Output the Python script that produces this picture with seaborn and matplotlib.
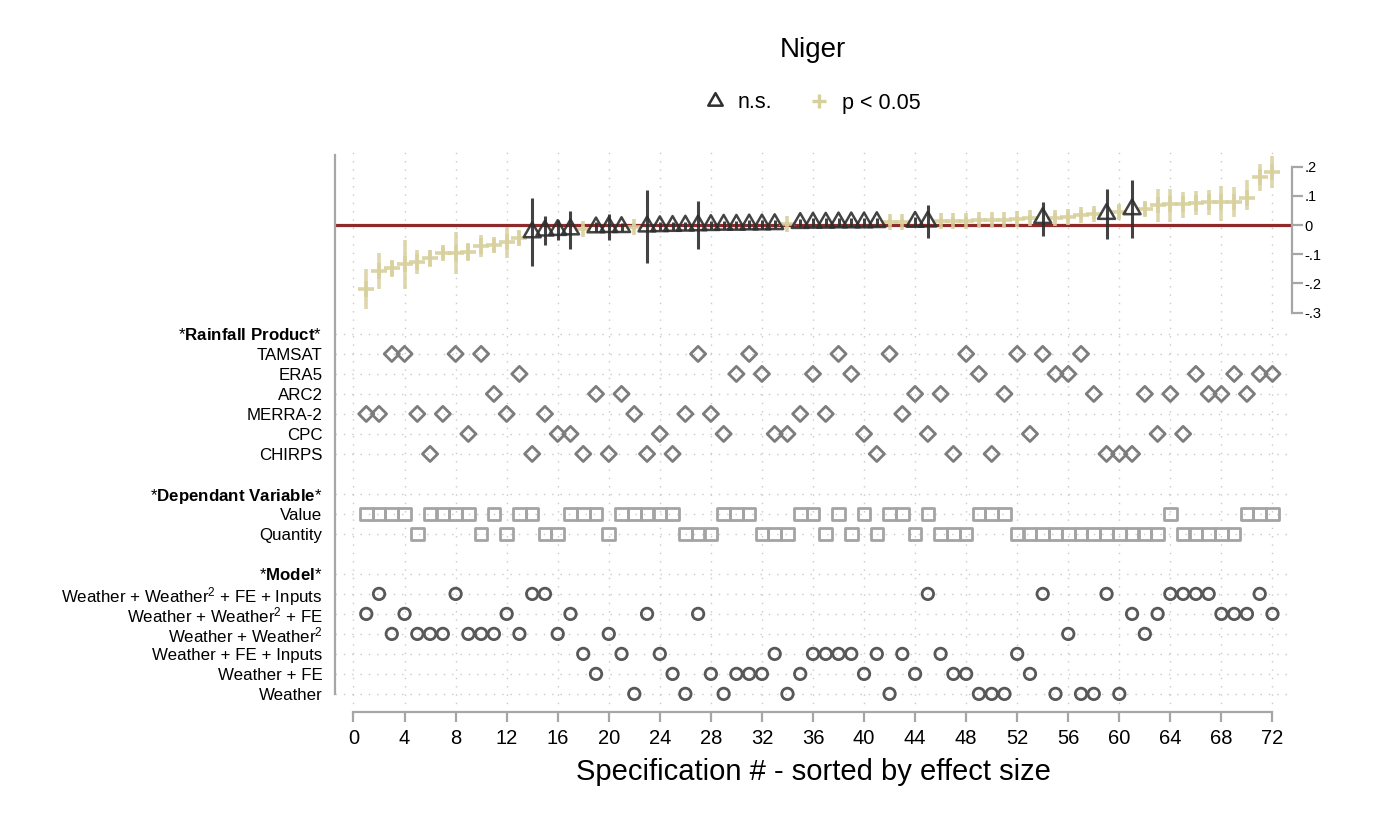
import numpy as np
import pandas as pd
import matplotlib
matplotlib.use("Agg")
import matplotlib.pyplot as plt
from matplotlib.lines import Line2D
from matplotlib.path import Path
from matplotlib.markers import MarkerStyle
import seaborn as sns

# ---------------- data ----------------
spec = list(range(1, 73))
coef = [-0.219, -0.156, -0.148, -0.132, -0.126, -0.113, -0.097, -0.095, -0.092, -0.071,
        -0.068, -0.058, -0.043, -0.025, -0.019, -0.017, -0.015, -0.013, -0.008, -0.007,
        -0.007, -0.006, -0.005, -0.004, -0.003, -0.002, -0.001, 0.000, 0.001, 0.001,
        0.002, 0.002, 0.003, 0.005, 0.007, 0.008, 0.008, 0.009, 0.009, 0.009,
        0.010, 0.010, 0.011, 0.011, 0.012, 0.014, 0.015, 0.015, 0.016, 0.016,
        0.016, 0.020, 0.023, 0.024, 0.025, 0.027, 0.034, 0.038, 0.038, 0.046,
        0.054, 0.056, 0.070, 0.072, 0.072, 0.076, 0.079, 0.079, 0.080, 0.091,
        0.163, 0.183]
ci_low = [-0.289, -0.218, -0.179, -0.218, -0.168, -0.143, -0.118, -0.168, -0.122, -0.108,
          -0.091, -0.114, -0.068, -0.140, -0.067, -0.051, -0.081, -0.022, -0.025, -0.051,
          -0.022, -0.016, -0.131, -0.018, -0.017, -0.016, -0.083, -0.014, -0.013, -0.013,
          -0.012, -0.012, -0.011, -0.005, -0.008, -0.007, -0.007, -0.006, -0.006, -0.006,
          -0.005, 0.001, 0.002, -0.005, -0.043, 0.003, 0.004, 0.004, 0.005, 0.005,
          0.005, 0.008, 0.010, -0.038, 0.010, 0.012, 0.018, 0.020, -0.049, 0.023,
          -0.046, 0.032, 0.012, 0.011, 0.023, 0.034, 0.034, 0.015, 0.029, 0.051,
          0.118, 0.128]
ci_high = [-0.151, -0.097, -0.123, -0.051, -0.086, -0.086, -0.074, -0.024, -0.063, -0.034,
           -0.049, -0.006, -0.021, 0.091, 0.031, 0.017, 0.049, -0.004, 0.010, 0.037,
           0.008, 0.004, 0.120, 0.010, 0.011, 0.012, 0.081, 0.014, 0.015, 0.015,
           0.016, 0.016, 0.017, 0.014, 0.022, 0.023, 0.023, 0.024, 0.024, 0.024,
           0.025, 0.019, 0.020, 0.027, 0.068, 0.025, 0.026, 0.026, 0.027, 0.027,
           0.027, 0.032, 0.036, 0.080, 0.040, 0.042, 0.050, 0.056, 0.125, 0.068,
           0.154, 0.080, 0.122, 0.122, 0.114, 0.118, 0.120, 0.134, 0.129, 0.154,
           0.209, 0.236]
ns_specs = [14, 15, 16, 17, 19, 20, 21, 23, 24, 25, 26, 27, 28, 29, 30, 31, 32, 33,
            35, 36, 37, 38, 39, 40, 41, 44, 45, 54, 59, 61]

# Rainfall products
products = ["TAMSAT", "ERA5", "ARC2", "MERRA-2", "CPC", "CHIRPS"]
tamsat = [3, 4, 8, 10, 27, 31, 38, 42, 48, 52, 54, 57]
era5 = [13, 30, 32, 36, 39, 49, 55, 56, 66, 69, 71, 72]
arc2 = [11, 19, 21, 44, 46, 51, 58, 62, 64, 67, 68, 70]
merra2 = [1, 2, 5, 7, 12, 15, 22, 26, 28, 35, 37, 43]
cpc = [9, 16, 17, 24, 29, 33, 34, 40, 45, 53, 63, 65]
chirps = [6, 14, 18, 20, 23, 25, 41, 47, 50, 59, 60, 61]

# Dependent variable
depvars = ["Value", "Quantity"]
value_specs = [1, 2, 3, 4, 6, 7, 8, 9, 11, 13, 14, 17, 18, 19, 21, 22, 23, 24, 25, 29,
               30, 31, 35, 36, 38, 40, 42, 43, 45, 49, 50, 51, 64, 70, 71, 72]
quantity_specs = [5, 10, 12, 15, 16, 20, 26, 27, 28, 32, 33, 34, 37, 39, 41, 44, 46, 47,
                  48, 52, 53, 54, 55, 56, 57, 58, 59, 60, 61, 62, 63, 65, 66, 67, 68, 69]

# Models
models = ["Weather + Weather$^{2}$ + FE + Inputs", "Weather + Weather$^{2}$ + FE",
          "Weather + Weather$^{2}$", "Weather + FE + Inputs", "Weather + FE", "Weather"]
m_w2_fe_inp = [2, 8, 14, 15, 45, 54, 59, 64, 65, 66, 67, 71]
m_w2_fe = [1, 4, 12, 17, 23, 27, 61, 63, 68, 69, 70, 72]
m_w2 = [3, 5, 6, 7, 9, 10, 11, 13, 16, 20, 56, 62]
m_fe_inp = [18, 21, 24, 33, 36, 37, 38, 39, 41, 43, 46, 52]
m_fe = [19, 25, 28, 30, 31, 32, 35, 40, 44, 47, 48, 53]
m_weather = [22, 26, 29, 34, 42, 49, 50, 51, 55, 57, 58, 60]

x_ticks = list(range(0, 73, 4))
coef_ticks = [0.2, 0.1, 0.0, -0.1, -0.2, -0.3]
coef_tick_labels = [".2", ".1", "0", "-.1", "-.2", "-.3"]

# ---------------- style ----------------
sns.set_theme(style="white")
plt.rcParams["font.family"] = ["Liberation Sans", "DejaVu Sans"]
plt.rcParams["mathtext.fontset"] = "custom"
plt.rcParams["mathtext.rm"] = "Liberation Sans"
plt.rcParams["mathtext.bf"] = "Liberation Sans:bold"
plt.rcParams["mathtext.it"] = "Liberation Sans:italic"
plt.rcParams["mathtext.sf"] = "Liberation Sans"
plt.rcParams["text.color"] = "black"
plt.rcParams["axes.labelcolor"] = "black"
plt.rcParams["xtick.labelcolor"] = "black"
plt.rcParams["ytick.labelcolor"] = "black"

C_NS = "#2e2e2e"
C_SIG = "#d8d09c"
C_ZERO = "#8f2a2a"
C_DIAM = "#7c7c7c"
C_SQ = "#a4a4a4"
C_CIRC = "#585858"
C_AXIS = "#a6a6a6"
C_GRID = "#c9c9c9"

tri_marker = MarkerStyle(Path([(0, 0.667), (-0.577, -0.333), (0.577, -0.333), (0, 0.667)],
                              [Path.MOVETO, Path.LINETO, Path.LINETO, Path.CLOSEPOLY]))

# ---------------- frame ----------------
fig = plt.figure(figsize=(14, 8.4), dpi=100)
ax = fig.add_axes([335 / 1400, 1 - 712 / 840, (1292 - 335) / 1400, (712 - 150) / 840])
ax.set_xlim(-1.449, 73.53)
ax.set_ylim(-1.668, 0.257)

# row layout
row_step = 0.0685
row_top = -0.373
hdr_rain = r"*$\mathbf{Rainfall\ Product}$*"
hdr_dep = r"*$\mathbf{Dependant\ Variable}$*"
hdr_model = r"*$\mathbf{Model}$*"
row_labels = [hdr_rain] + products + [""] + [hdr_dep] + depvars + [""] + [hdr_model] + models
row_y = [row_top - i * row_step for i in range(len(row_labels))]
ypos = dict(zip(row_labels, row_y))

# grid
for xt in x_ticks:
    ax.axvline(xt, color=C_GRID, lw=1.0, ls=(0, (1, 5)), zorder=0)
for lab, yy in zip(row_labels, row_y):
    if lab:
        ax.axhline(yy, color=C_GRID, lw=1.0, ls=(0, (1, 5)), zorder=0)

ax.axhline(0, color=C_ZERO, lw=2.3, zorder=1)

# ---------------- coefficients ----------------
df = pd.DataFrame({"spec": spec, "coef": coef, "lo": ci_low, "hi": ci_high})
df["ns"] = df["spec"].isin(ns_specs)
sig = df[~df["ns"]]
nsd = df[df["ns"]]

ax.vlines(sig["spec"], sig["lo"], sig["hi"], color=C_SIG, lw=2.6, alpha=0.85, zorder=2)
sns.scatterplot(data=sig, x="spec", y="coef", marker="+", s=120, color=C_SIG,
                edgecolor=None, linewidth=2.6, alpha=0.9, legend=False, ax=ax, zorder=3)
ax.vlines(nsd["spec"], nsd["lo"], nsd["hi"], color=C_NS, lw=2.2, alpha=0.9, zorder=4)
sns.scatterplot(data=nsd, x="spec", y="coef", marker=tri_marker, s=200, color=C_NS,
                facecolors="none", edgecolor=C_NS, linewidth=1.8, alpha=0.9,
                legend=False, ax=ax, zorder=5)

# ---------------- indicator rows ----------------
rows = []
for name, lst in zip(products, [tamsat, era5, arc2, merra2, cpc, chirps]):
    rows += [{"spec": s, "y": ypos[name], "kind": "product"} for s in lst]
for name, lst in zip(depvars, [value_specs, quantity_specs]):
    rows += [{"spec": s, "y": ypos[name], "kind": "depvar"} for s in lst]
for name, lst in zip(models, [m_w2_fe_inp, m_w2_fe, m_w2, m_fe_inp, m_fe, m_weather]):
    rows += [{"spec": s, "y": ypos[name], "kind": "model"} for s in lst]
ind = pd.DataFrame(rows)

sns.scatterplot(data=ind[ind.kind == "product"], x="spec", y="y", marker="D", s=60,
                color=C_DIAM, facecolors="none", edgecolor=C_DIAM, linewidth=2.0,
                legend=False, ax=ax, zorder=3)
sns.scatterplot(data=ind[ind.kind == "depvar"], x="spec", y="y", marker="s", s=82,
                color=C_SQ, facecolors="none", edgecolor=C_SQ, linewidth=2.0,
                legend=False, ax=ax, zorder=3)
sns.scatterplot(data=ind[ind.kind == "model"], x="spec", y="y", marker="o", s=68,
                color=C_CIRC, facecolors="none", edgecolor=C_CIRC, linewidth=2.0,
                legend=False, ax=ax, zorder=3)

# ---------------- axes ----------------
for side in ["top", "right"]:
    ax.spines[side].set_visible(False)
ax.spines["left"].set_color(C_AXIS)
ax.spines["left"].set_linewidth(1.6)
ax.spines["left"].set_bounds(row_y[-1], 0.24)
ax.spines["bottom"].set_color(C_AXIS)
ax.spines["bottom"].set_linewidth(1.6)
ax.spines["bottom"].set_bounds(0, 72)

ax.set_xticks(x_ticks)
ax.set_xticklabels([str(t) for t in x_ticks], fontsize=14.5)
ax.tick_params(axis="x", direction="out", length=7.5, width=1.6, color=C_AXIS, pad=5,
               bottom=True, labelcolor="black")
ax.set_xlabel("Specification # - sorted by effect size", fontsize=21, labelpad=7, color="black")

yt = [yy for lab, yy in zip(row_labels, row_y) if lab]
ylab = [lab for lab in row_labels if lab]
ax.set_yticks(yt)
ax.set_yticklabels(ylab, fontsize=12.2)
ax.tick_params(axis="y", length=0, pad=9, labelcolor="black")
ax.set_ylabel("")

ax2 = ax.twinx()
ax2.set_ylim(ax.get_ylim())
for side in ["top", "left", "bottom"]:
    ax2.spines[side].set_visible(False)
ax2.spines["right"].set_color(C_AXIS)
ax2.spines["right"].set_linewidth(1.6)
ax2.spines["right"].set_bounds(-0.3, 0.2)
ax2.set_yticks(coef_ticks)
ax2.set_yticklabels(coef_tick_labels, fontsize=10.5)
ax2.tick_params(axis="y", direction="out", length=8, width=1.6, color=C_AXIS, pad=1,
                right=True, labelcolor="black")
ax2.grid(False)
ax.grid(False)

# ---------------- title & legend ----------------
fig.text(812.7 / 1400, 1 - 50 / 840, "Niger", ha="center", va="center", fontsize=20,
         color="black")
handles = [
    Line2D([], [], ls="none", marker=tri_marker, markersize=12, markerfacecolor="none",
           markeredgecolor=C_NS, markeredgewidth=1.8),
    Line2D([], [], ls="none", marker="+", markersize=10, color=C_SIG, markeredgewidth=2.4),
]
leg = fig.legend(handles, ["n.s.", "p < 0.05"], loc="center",
                 bbox_to_anchor=(811 / 1400, 1 - 103 / 840),
                 ncol=2, frameon=False, fontsize=15.5, handletextpad=0.45, columnspacing=1.6,
                 handlelength=1.2)
for t in leg.get_texts():
    t.set_color("black")

fig.savefig("out.png", dpi=100)
